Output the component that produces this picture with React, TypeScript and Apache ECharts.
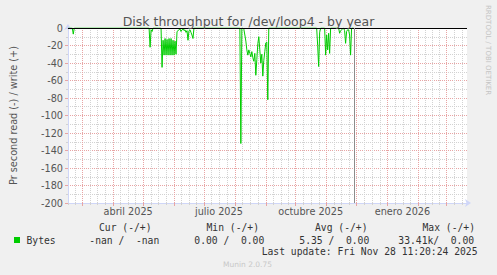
import React, { useEffect, useRef } from 'react';
import * as echarts from 'echarts';

const DAY = 86400000;
const START = Date.UTC(2025, 1, 14, 17, 0);
const END = START + 400 * DAY;
const LAST_UPDATE = Date.UTC(2025, 10, 28, 11, 20, 24);

const title = 'Disk throughput for /dev/loop4 - by year';
const yAxisName = 'Pr second read (-) / write (+)';
const seriesName = 'Bytes';

const readPoints: [string, number][] = [
  ['2025-02-15', 0], ['2025-02-19', 0], ['2025-02-20', -7], ['2025-02-21', 0],
  ['2025-05-07', 0], ['2025-05-08', -22], ['2025-05-09', -2], ['2025-05-10', -4], ['2025-05-11', 0],
  ['2025-05-19', 0], ['2025-05-20', -45], ['2025-05-21', -14], ['2025-05-22', -31], ['2025-05-23', -12],
  ['2025-05-24', -31], ['2025-05-25', -13], ['2025-05-26', -31], ['2025-05-27', -12], ['2025-05-28', -31],
  ['2025-05-29', -12], ['2025-05-30', -31], ['2025-05-31', -14], ['2025-06-01', -31], ['2025-06-02', -15],
  ['2025-06-03', -30], ['2025-06-04', -4], ['2025-06-05', -3], ['2025-06-06', -2], ['2025-06-07', -1],
  ['2025-06-08', -4], ['2025-06-09', -2], ['2025-06-10', -1], ['2025-06-11', -3], ['2025-06-12', -2],
  ['2025-06-13', -5], ['2025-06-14', -3], ['2025-06-15', -14], ['2025-06-16', -3], ['2025-06-17', -2],
  ['2025-06-18', -5], ['2025-06-19', -8], ['2025-06-20', -12], ['2025-06-21', 0],
  ['2025-08-06', 0], ['2025-08-07', -132], ['2025-08-08', 0], ['2025-08-09', 0], ['2025-08-10', -1.5],
  ['2025-08-11', -8], ['2025-08-12', -15], ['2025-08-13', -25], ['2025-08-14', -31], ['2025-08-15', -25],
  ['2025-08-16', -29], ['2025-08-17', -33], ['2025-08-18', -27], ['2025-08-19', -34], ['2025-08-20', -38],
  ['2025-08-21', -29], ['2025-08-22', -54], ['2025-08-23', -36], ['2025-08-24', -18], ['2025-08-25', -10],
  ['2025-08-26', -25], ['2025-08-27', -40], ['2025-08-28', -30], ['2025-08-29', -55], ['2025-08-30', -37],
  ['2025-08-31', -27], ['2025-09-01', -17], ['2025-09-02', -16], ['2025-09-03', -82], ['2025-09-04', 0],
  ['2025-10-22', 0], ['2025-10-23', -20], ['2025-10-24', -44], ['2025-10-25', -5], ['2025-10-26', 0],
  ['2025-10-30', 0], ['2025-10-31', -31], ['2025-11-01', -8], ['2025-11-02', -25], ['2025-11-03', -6],
  ['2025-11-04', -29], ['2025-11-05', 0],
  ['2025-11-13', 0], ['2025-11-14', -6], ['2025-11-15', -3], ['2025-11-16', -2], ['2025-11-17', -1],
  ['2025-11-18', 0], ['2025-11-19', -3], ['2025-11-20', -17.5], ['2025-11-21', -4], ['2025-11-22', -2],
  ['2025-11-23', -2], ['2025-11-24', -8], ['2025-11-25', -31], ['2025-11-26', 0], ['2025-11-28', 0],
];

const monthStarts = [
  '2025-02-01', '2025-03-01', '2025-04-01', '2025-05-01', '2025-06-01', '2025-07-01', '2025-08-01',
  '2025-09-01', '2025-10-01', '2025-11-01', '2025-12-01', '2026-01-01', '2026-02-01', '2026-03-01',
  '2026-04-01',
];
const labelDates = ['2025-04-16', '2025-07-16', '2025-10-16', '2026-01-16'];
const labelTexts = ['abril 2025', 'julio 2025', 'octubre 2025', 'enero 2026'];

const legendHeaders = ['Cur (-/+)', 'Min (-/+)', 'Avg (-/+)', 'Max (-/+)'];
const legendValues = ['-nan /  -nan', '0.00 /  0.00', '5.35 /  0.00', '33.41k/  0.00'];
const lastUpdateText = 'Last update: Fri Nov 28 11:20:24 2025';
const watermark = 'Munin 2.0.75';
const sideText = 'RRDTOOL / TOBI OETIKER';

const toTime = (s: string) => Date.parse(s + 'T00:00:00Z');

const FONT = '"DejaVu Sans", sans-serif';
const MONO = '"DejaVu Sans Mono", monospace';
const TEXT = '#555555';
const LEGEND = '#333333';
const MINOR = '#d2d2d2';
const MAJOR = '#e8a4a4';
const AXIS = '#cfd6f8';
const GREEN = '#00cc00';
const NOW = '#8c8c8c';

export default function App() {
  const ref = useRef<HTMLDivElement>(null);
  useEffect(() => {
    const chart = echarts.init(ref.current!, null, { renderer: 'svg' });

    const monthAll = monthStarts.map(toTime);
    const inRange = (t: number) => t > START && t < END;
    const monthTimes = monthAll.filter(inRange);
    const minorTimes: number[] = [];
    for (let i = 0; i < monthAll.length - 1; i++) {
      const span = monthAll[i + 1] - monthAll[i];
      for (let k = 1; k < 4; k++) minorTimes.push(monthAll[i] + (span * k) / 4);
    }
    const minorIn = minorTimes.filter(inRange);
    const labelTimes = labelDates.map(toTime);

    const baseX = {
      type: 'value' as const,
      min: START,
      max: END,
      position: 'bottom' as const,
      offset: 0,
      gridIndex: 0,
    };

    const legendX = [99, 206.5, 315, 422.5];
    const valueX = [89.3, 194.3, 299.3, 398.3];

    const graphics: any[] = [
      {
        type: 'text',
        x: 488,
        y: 5,
        rotation: -Math.PI / 2,
        style: {
          text: sideText, fill: '#c4c4c4', fontSize: 7, fontFamily: FONT,
          textAlign: 'left', textVerticalAlign: 'middle', align: 'left', verticalAlign: 'middle',
        },
      },
      {
        type: 'rect',
        shape: { x: 14, y: 237, width: 6, height: 6 },
        style: { fill: GREEN },
      },
      {
        type: 'text', x: 26.5, y: 240,
        style: { text: seriesName, fill: LEGEND, fontSize: 9.7, fontFamily: MONO, textVerticalAlign: 'middle', verticalAlign: 'middle' },
      },
      ...legendHeaders.map((h, i) => ({
        type: 'text', x: legendX[i], y: 227.5,
        style: { text: h, fill: LEGEND, fontSize: 9.7, fontFamily: MONO, textVerticalAlign: 'middle', verticalAlign: 'middle' },
      })),
      ...legendValues.map((v, i) => ({
        type: 'text', x: valueX[i], y: 240,
        style: { text: v, fill: LEGEND, fontSize: 9.7, fontFamily: MONO, textVerticalAlign: 'middle', verticalAlign: 'middle' },
      })),
      {
        type: 'text', x: 261.7, y: 251.5,
        style: { text: lastUpdateText, fill: LEGEND, fontSize: 9.7, fontFamily: MONO, textVerticalAlign: 'middle', verticalAlign: 'middle' },
      },
      {
        type: 'text', x: 247.5, y: 264,
        style: {
          text: watermark, fill: '#c8c8c8', fontSize: 7.5, fontFamily: FONT,
          textAlign: 'center', textVerticalAlign: 'middle', align: 'center', verticalAlign: 'middle',
        },
      },
    ];

    chart.setOption({
      animation: false,
      backgroundColor: '#f0f0f0',
      title: {
        text: title,
        left: 'center',
        top: 10,
        textStyle: { fontSize: 12.5, fontWeight: 'normal', color: TEXT, fontFamily: FONT },
      },
      grid: { left: 67, top: 28, width: 400, height: 175, show: true, backgroundColor: '#ffffff', borderWidth: 0 },
      xAxis: [
        {
          ...baseX,
          axisLine: {
            show: true, onZero: false,
            lineStyle: { color: AXIS, width: 1 },
            symbol: ['none', 'arrow'], symbolSize: [6, 6], symbolOffset: [0, 4],
          },
          axisTick: { show: true, customValues: minorIn, length: 2, lineStyle: { color: MINOR } },
          axisLabel: { show: false },
          splitLine: { show: true, lineStyle: { color: MINOR, type: [1, 1], width: 1 } },
        },
        {
          ...baseX,
          axisLine: { show: false, onZero: false },
          axisTick: { show: true, customValues: monthTimes, length: 3, lineStyle: { color: MAJOR } },
          axisLabel: { show: false },
          splitLine: { show: true, lineStyle: { color: MAJOR, type: [1, 1], width: 1 } },
        },
        {
          ...baseX,
          axisLine: { show: false, onZero: false },
          axisTick: { show: false },
          splitLine: { show: false },
          axisLabel: {
            show: true,
            customValues: labelTimes,
            margin: 3,
            color: TEXT,
            fontSize: 9.7,
            fontFamily: FONT,
            formatter: (v: number) => {
              let best = 0;
              labelTimes.forEach((t, i) => { if (Math.abs(t - v) < Math.abs(labelTimes[best] - v)) best = i; });
              return labelTexts[best];
            },
          },
        },
      ],
      yAxis: {
        type: 'value',
        min: -200,
        max: 0,
        interval: 20,
        name: yAxisName,
        nameLocation: 'middle',
        nameGap: 50,
        nameTextStyle: { fontSize: 9.7, color: TEXT, fontFamily: FONT },
        axisLine: {
          show: true,
          lineStyle: { color: AXIS, width: 1 },
          symbol: ['none', 'arrow'], symbolSize: [6, 6], symbolOffset: [0, 4],
        },
        axisTick: { show: true, length: 3, lineStyle: { color: MAJOR } },
        minorTick: { show: true, splitNumber: 2, length: 2, lineStyle: { color: MINOR } },
        axisLabel: { fontSize: 9.7, color: TEXT, fontFamily: FONT, margin: 5 },
        splitLine: { show: true, lineStyle: { color: MAJOR, type: [1, 1], width: 1 } },
        minorSplitLine: { show: true, lineStyle: { color: MINOR, type: [1, 1], width: 1 } },
      },
      graphic: graphics,
      series: [
        {
          name: seriesName,
          type: 'line',
          xAxisIndex: 0,
          yAxisIndex: 0,
          showSymbol: false,
          symbol: 'none',
          data: readPoints.map(([d, v]) => [toTime(d), v]),
          lineStyle: { color: GREEN, width: 1 },
          itemStyle: { color: GREEN },
          z: 3,
          markLine: {
            silent: true,
            symbol: ['none', 'none'],
            label: { show: false },
            animation: false,
            lineStyle: { color: '#000000', width: 1, type: 'solid' },
            data: [{ yAxis: 0 }],
          },
        },
        {
          name: 'now',
          type: 'line',
          xAxisIndex: 0,
          yAxisIndex: 0,
          showSymbol: false,
          symbol: 'none',
          data: [],
          z: 4,
          markLine: {
            silent: true,
            symbol: ['none', 'none'],
            label: { show: false },
            animation: false,
            lineStyle: { color: NOW, width: 1, type: 'solid' },
            itemStyle: { color: NOW },
            data: [{ xAxis: LAST_UPDATE }],
          },
        },
      ],
    });
    return () => chart.dispose();
  }, []);
  return (
    <div
      ref={ref}
      style={{ position: 'fixed', left: 0, top: 0, width: 497, height: 275, background: '#f0f0f0' }}
    />
  );
}
